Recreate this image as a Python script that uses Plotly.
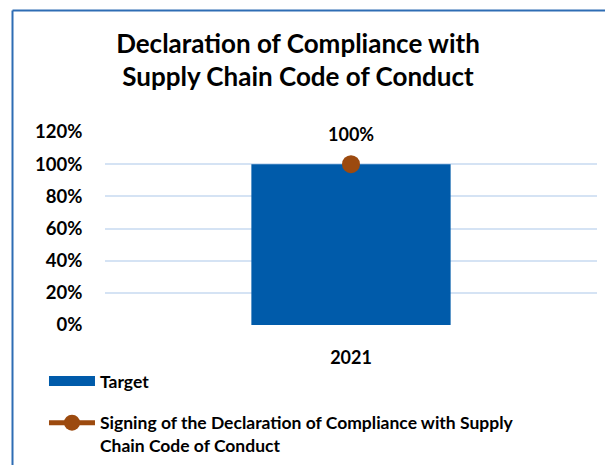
import plotly.graph_objects as go

categories = ["2021"]
target_values = [1.0]
signing_values = [1.0]
signing_labels = ["100%"]
y_ticks = [0, 0.2, 0.4, 0.6, 0.8, 1.0, 1.2]
y_tick_labels = ["0%", "20%", "40%", "60%", "80%", "100%", "120%"]

FONT = "Lato"
BLUE = "#005BAA"
BROWN = "#9C4A0F"

fig = go.Figure()
fig.add_trace(go.Bar(
    x=categories, y=target_values, name="Target",
    marker=dict(color=BLUE, line=dict(width=0)),
    width=0.405, showlegend=False, hoverinfo="skip",
))
# legend stand-in for the bar swatch
fig.add_trace(go.Scatter(
    x=[None], y=[None], mode="lines", name="Target",
    line=dict(color=BLUE, width=10), legendgroup="a",
))
fig.add_trace(go.Scatter(
    x=categories, y=signing_values, mode="lines+markers",
    name="Signing of the Declaration of Compliance with Supply<br>Chain Code of Conduct",
    marker=dict(color=BROWN, size=18),
    line=dict(color=BROWN, width=5),
    legendgroup="b",
))
for i, (v, t) in enumerate(zip(signing_values, signing_labels)):
    fig.add_annotation(x=i, y=v, xref="x", yref="y", text=t, showarrow=False, yshift=30,
                       font=dict(family=FONT, size=18, color="#000000", weight="bold"))

fig.update_layout(
    width=605, height=465,
    paper_bgcolor="white", plot_bgcolor="white",
    margin=dict(l=105, r=8, t=132, b=140, autoexpand=False),
    font=dict(family=FONT, size=16, color="#000000", weight="bold"),
    title=dict(
        text="Declaration of Compliance with<br>Supply Chain Code of Conduct",
        x=298 / 605, xanchor="center", xref="container",
        y=0.887, yanchor="top", yref="container",
        font=dict(family=FONT, size=26, color="#000000", weight="bold"),
    ),
    xaxis=dict(
        type="category", showgrid=False, zeroline=False,
        ticks="outside", ticklen=16, tickcolor="rgba(0,0,0,0)",
        tickfont=dict(family=FONT, size=18, weight="bold"),
        showline=False,
    ),
    yaxis=dict(
        range=[0, 1.2], tickvals=y_ticks, ticktext=y_tick_labels,
        showgrid=True, gridcolor="#D5E3F4", gridwidth=2,
        zeroline=False, ticks="outside", ticklen=18, tickcolor="rgba(0,0,0,0)",
        tickfont=dict(family=FONT, size=18.5, weight="bold"),
    ),
    legend=dict(
        orientation="v", x=-0.124, xanchor="left", y=-0.197, yanchor="top",
        valign="top", traceorder="grouped", tracegroupgap=16,
        itemwidth=46, bgcolor="rgba(0,0,0,0)",
        font=dict(family=FONT, size=17.5, weight="bold"),
    ),
    showlegend=True,
    shapes=[
        dict(type="line", xref="paper", yref="paper",
             x0=(12.5 - 105) / 492, x1=(606 - 105) / 492,
             y0=(325 - 10.5) / 193, y1=(325 - 10.5) / 193,
             line=dict(color="#2E6DB4", width=2)),
        dict(type="line", xref="paper", yref="paper",
             x0=(12.5 - 105) / 492, x1=(12.5 - 105) / 492,
             y0=(325 - 10.5) / 193, y1=(325 - 470) / 193,
             line=dict(color="#2E6DB4", width=2)),
    ],
)

fig.write_html("out.html", config={"displayModeBar": False},
               post_script="document.body.style.margin='0';")
